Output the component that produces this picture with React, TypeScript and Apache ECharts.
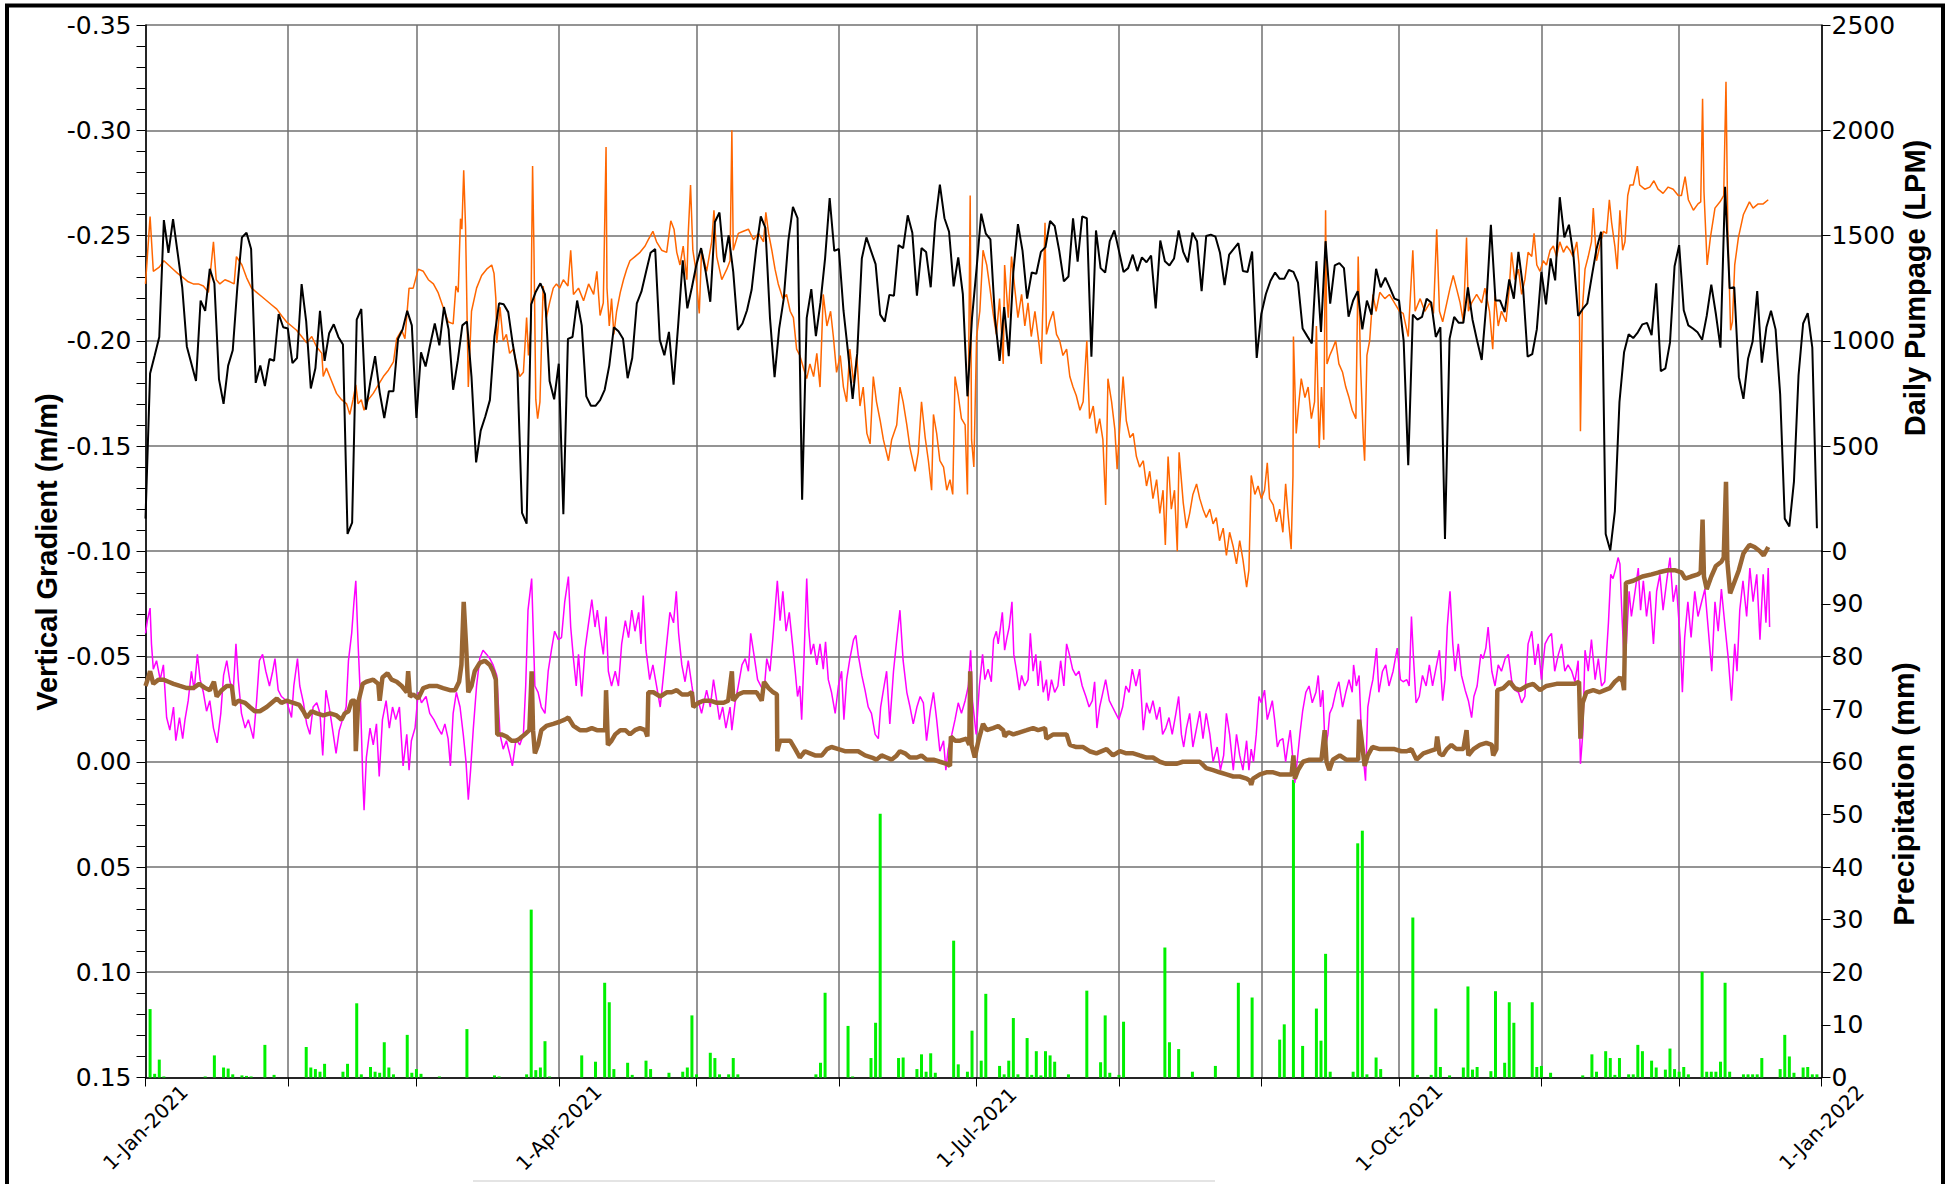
import React, { useEffect, useRef } from "react";
import * as echarts from "echarts";

// ---------- DATA ----------
// day offsets from 1-Jan-2021
const monthStartDays = [0, 31, 59, 90, 120, 151, 181, 212, 243, 273, 304, 334, 365];
const quarterLabelDays = [0, 90, 181, 273, 365];

// Daily pumpage (LPM), one value per day starting 1-Jan-2021
const dailyPumpage = [
  155, 845, 930, 1018, 1573, 1418, 1578, 1418, 1254, 973,
  891, 809, 1191, 1142, 1342, 1273, 818, 700, 882, 955,
  1254, 1491, 1513, 1436, 800, 882, 785, 913, 905, 1127,
  1064, 1058, 894, 918, 1269, 1091, 773, 869, 1142, 904,
  1036, 1078, 1018, 982, 82, 136, 1100, 1151, 673, 809,
  927, 755, 633, 760, 760, 1009, 1054, 1142, 1073, 633,
  945, 878, 982, 1082, 978, 1160, 1054, 767, 904, 1073,
  1091, 827, 422, 573, 640, 718, 1022, 1178, 1173, 1136,
  982, 855, 182, 131, 1173, 1233, 1273, 1222, 809, 722,
  891, 176, 1009, 1018, 1191, 1073, 736, 691, 691, 718,
  767, 882, 1064, 1045, 1009, 822, 918, 1178, 1233, 1327,
  1418, 1436, 1004, 931, 1042, 791, 1073, 1382, 1154, 1254,
  1364, 1440, 1327, 1185, 1564, 1609, 1373, 1500, 1327, 1051,
  1082, 1145, 1242, 1436, 1591, 1536, 1109, 827, 1058, 1200,
  1476, 1636, 1582, 245, 1109, 1245, 1022, 1182, 1391, 1678,
  1427, 1436, 1145, 945, 724, 940, 1391, 1491, 1427, 1364,
  1124, 1091, 1218, 1214, 1454, 1440, 1596, 1513, 1214, 1440,
  1422, 1254, 1564, 1742, 1582, 1518, 1258, 1396, 1222, 736,
  1109, 1345, 1604, 1509, 1482, 1109, 904, 1160, 927, 1327,
  1554, 1427, 1200, 1324, 1318, 1422, 1445, 1569, 1545, 1427,
  1282, 1305, 1582, 1376, 1591, 1582, 924, 1524, 1345, 1324,
  1473, 1524, 1427, 1327, 1345, 1409, 1331, 1396, 1373, 1405,
  1154, 1476, 1378, 1358, 1391, 1524, 1422, 1373, 1513, 1473,
  1236, 1498, 1504, 1495, 1418, 1264, 1409, 1436, 1464, 1331,
  1327, 1424, 918, 1127, 1222, 1285, 1324, 1294, 1294, 1336,
  1327, 1276, 1058, 1022, 987, 1378, 1042, 1473, 1176, 1358,
  1369, 1345, 1114, 1191, 1236, 1054, 1191, 1124, 1342, 1254,
  1300, 1251, 1200, 1191, 1000, 409, 1124, 1100, 1113, 1200,
  1182, 1018, 1064, 58, 1009, 1113, 1085, 1085, 1254, 1100,
  1000, 909, 1173, 1551, 1191, 1191, 1136, 1291, 1200, 1422,
  1254, 924, 936, 1054, 1327, 1173, 1391, 1287, 1682, 1491,
  1551, 1400, 1118, 1151, 1178, 1309, 1436, 1518, 82, 4,
  191, 709, 945, 1031, 1013, 1040, 1078, 1085, 1027, 1273,
  855, 869, 991, 1354, 1454, 1145, 1073, 1058, 1040, 1005,
  1118, 1267, 1127, 967, 1731, 1249, 1254, 827, 724, 914,
  996, 1236, 896, 1064, 1142, 1054, 745, 155, 118, 331,
  836, 1082, 1131, 967, 109,
];

// Orange gradient series [day, m/m]
const orangeGradient = [
  [0, -0.227], [1, -0.259], [1.7, -0.233], [3, -0.235], [4, -0.238], [5, -0.236], [6, -0.234], [7, -0.232],
  [8.2, -0.23], [9.3, -0.228], [10.4, -0.227], [11.5, -0.227], [12.6, -0.226], [13.7, -0.223], [14.8, -0.247],
  [15.4, -0.229], [16.2, -0.227], [17.3, -0.229], [18.4, -0.228], [19.3, -0.227], [19.8, -0.24], [21, -0.236],
  [22, -0.23], [23.1, -0.225], [24.2, -0.223], [25.3, -0.221], [26.4, -0.219], [27.5, -0.217], [28.6, -0.215],
  [29.6, -0.212], [30.7, -0.209], [31.8, -0.207], [32.9, -0.205], [34, -0.202], [35.1, -0.199], [36.2, -0.202],
  [37.3, -0.197], [38.4, -0.194], [38.7, -0.183], [39.4, -0.187], [40.5, -0.181], [41.6, -0.175], [42.7, -0.172],
  [43.8, -0.17], [44.5, -0.165], [45.2, -0.172], [45.8, -0.179], [46.3, -0.17], [47, -0.172], [47.6, -0.167],
  [48.5, -0.172], [49.6, -0.175], [50.7, -0.179], [51.8, -0.183], [52.9, -0.186], [54, -0.19], [54.7, -0.201],
  [55.8, -0.205], [56.5, -0.201], [57.4, -0.225], [58.3, -0.225], [59.4, -0.234], [60.5, -0.233], [61.6, -0.229],
  [62.7, -0.227], [63.7, -0.223], [64.8, -0.216], [65.9, -0.209], [67, -0.208], [67.6, -0.226], [68.1, -0.223],
  [68.6, -0.258], [68.9, -0.253], [69.3, -0.281], [69.7, -0.254], [70.3, -0.178], [71, -0.214], [72.1, -0.225],
  [73.2, -0.231], [74.3, -0.234], [75.4, -0.236], [75.9, -0.232], [76.3, -0.22], [76.5, -0.199], [77.2, -0.216],
  [77.9, -0.2], [78.6, -0.203], [79.3, -0.194], [80.1, -0.196], [80.8, -0.189], [81.5, -0.183], [82.3, -0.185],
  [83, -0.211], [83.4, -0.193], [83.9, -0.205], [84.3, -0.283], [84.6, -0.243], [85, -0.172], [85.4, -0.163],
  [85.9, -0.171], [86.6, -0.226], [87.3, -0.211], [88, -0.218], [88.8, -0.225], [89.5, -0.227], [90.2, -0.225],
  [91, -0.229], [92, -0.226], [92.6, -0.243], [93.2, -0.222], [94.3, -0.225], [95.4, -0.219], [96.5, -0.227],
  [97.6, -0.222], [98.3, -0.233], [99, -0.212], [99.7, -0.218], [100.3, -0.292], [100.5, -0.225], [101, -0.207],
  [101.5, -0.22], [102, -0.203], [102.6, -0.214], [103.4, -0.223], [104.1, -0.229], [104.8, -0.234], [105.5, -0.238],
  [106.6, -0.24], [107.7, -0.242], [108.8, -0.245], [109.5, -0.248], [110.5, -0.252], [111.3, -0.247], [112.4, -0.243],
  [113.5, -0.242], [114.4, -0.257], [115.1, -0.253], [115.7, -0.242], [116.4, -0.236], [117.1, -0.245], [117.9, -0.229],
  [118.2, -0.251], [118.7, -0.274], [119.2, -0.243], [119.7, -0.236], [120.6, -0.213], [121.1, -0.243], [122.2, -0.233],
  [123.3, -0.247], [123.8, -0.262], [124.4, -0.24], [125.5, -0.229], [126.6, -0.234], [127.3, -0.238], [127.7, -0.3],
  [128, -0.243], [129.1, -0.251], [130.2, -0.252], [131.3, -0.253], [132.4, -0.248], [133.5, -0.251], [134.6, -0.247],
  [135.1, -0.261], [135.7, -0.251], [136.4, -0.243], [137.1, -0.234], [137.8, -0.227], [138.8, -0.22], [139.6, -0.222],
  [140.4, -0.214], [141.1, -0.211], [141.8, -0.196], [142.5, -0.193], [143.3, -0.187], [144, -0.182], [144.7, -0.189],
  [145.5, -0.183], [146.2, -0.194], [146.9, -0.178], [147.6, -0.222], [148.4, -0.207], [149.2, -0.214], [149.8, -0.202],
  [150.5, -0.185], [151.3, -0.193], [152, -0.178], [152.7, -0.171], [153.4, -0.196], [154.2, -0.18], [154.9, -0.193],
  [155.6, -0.169], [156.3, -0.178], [157.1, -0.156], [157.8, -0.151], [158.5, -0.183], [159.2, -0.171], [160, -0.162],
  [160.7, -0.153], [161.8, -0.143], [162.5, -0.153], [163.6, -0.16], [164.3, -0.178], [165, -0.171], [165.8, -0.16],
  [166.5, -0.149], [167.6, -0.138], [168.3, -0.147], [169, -0.171], [169.8, -0.154], [170.5, -0.143], [171.2, -0.129],
  [171.6, -0.165], [172.3, -0.156], [173, -0.143], [173.8, -0.14], [174.5, -0.129], [175.2, -0.134], [175.8, -0.127],
  [176.3, -0.183], [177, -0.174], [177.7, -0.163], [178.5, -0.16], [179, -0.127], [179.6, -0.269], [179.9, -0.153],
  [180.4, -0.14], [181, -0.202], [181.7, -0.214], [182.4, -0.243], [183.2, -0.236], [183.9, -0.225], [184.6, -0.213],
  [185.3, -0.203], [186, -0.22], [186.8, -0.189], [187.1, -0.236], [187.9, -0.211], [188.6, -0.24], [189.3, -0.225],
  [190, -0.211], [190.8, -0.222], [191.5, -0.207], [192.2, -0.218], [192.9, -0.202], [193.7, -0.214], [194.4, -0.202],
  [195.1, -0.189], [195.9, -0.256], [196.2, -0.203], [196.9, -0.209], [197.7, -0.214], [198.4, -0.203], [199.1, -0.2],
  [199.8, -0.193], [200.6, -0.196], [201.3, -0.183], [202, -0.178], [202.7, -0.174], [203.5, -0.167], [204.2, -0.171],
  [205, -0.2], [205.6, -0.163], [206.4, -0.169], [207.1, -0.156], [207.8, -0.163], [208.5, -0.153], [209.1, -0.122],
  [209.6, -0.182], [210.4, -0.171], [211.1, -0.158], [211.6, -0.139], [212.2, -0.16], [212.9, -0.183], [213.6, -0.162],
  [214.4, -0.154], [215.1, -0.156], [215.8, -0.145], [216.5, -0.14], [217.3, -0.143], [218, -0.131], [218.7, -0.138],
  [219.4, -0.125], [220.2, -0.134], [220.9, -0.118], [221.6, -0.129], [222.1, -0.103], [222.7, -0.145], [223.4, -0.12],
  [224.1, -0.129], [224.7, -0.1], [225.1, -0.147], [226, -0.123], [226.7, -0.111], [227.4, -0.118], [228.1, -0.127],
  [228.9, -0.132], [229.6, -0.125], [230.3, -0.12], [231, -0.116], [231.8, -0.12], [232.5, -0.113], [233.2, -0.116],
  [233.9, -0.105], [234.7, -0.111], [235.4, -0.098], [236.1, -0.109], [236.9, -0.102], [237.6, -0.094], [238.3, -0.105],
  [239, -0.096], [239.8, -0.083], [240.3, -0.091], [240.8, -0.136], [241.6, -0.127], [242.3, -0.131], [243, -0.125],
  [243.7, -0.129], [244.3, -0.142], [244.8, -0.125], [245.6, -0.122], [246.3, -0.114], [247, -0.12], [247.7, -0.109],
  [248.3, -0.132], [248.8, -0.118], [249.5, -0.101], [249.9, -0.136], [250, -0.202], [250.6, -0.156], [251.2, -0.171],
  [251.7, -0.182], [252.5, -0.173], [253.2, -0.178], [253.9, -0.163], [254.6, -0.171], [255, -0.207], [255.6, -0.149],
  [256.1, -0.178], [256.6, -0.153], [257, -0.262], [257.3, -0.189], [257.9, -0.193], [258.5, -0.196], [259.2, -0.2],
  [259.9, -0.189], [260.7, -0.185], [261.4, -0.178], [262.1, -0.173], [262.8, -0.167], [263.6, -0.163], [264.1, -0.24],
  [264.6, -0.189], [265.2, -0.154], [265.5, -0.143], [266, -0.193], [266.6, -0.2], [267.3, -0.222], [268, -0.214],
  [268.8, -0.223], [269.9, -0.22], [270.9, -0.222], [272, -0.218], [273.1, -0.214], [273.9, -0.213], [275, -0.202],
  [276, -0.243], [276.5, -0.214], [277.6, -0.22], [278.6, -0.214], [279.7, -0.218], [280.5, -0.213], [281.2, -0.253],
  [281.8, -0.214], [282.5, -0.209], [283.4, -0.218], [284.1, -0.225], [284.8, -0.231], [285.5, -0.225], [286.3, -0.218],
  [287, -0.209], [287.7, -0.249], [288.1, -0.214], [288.8, -0.218], [289.9, -0.222], [291, -0.218], [291.7, -0.225],
  [292.7, -0.214], [293.4, -0.196], [293.9, -0.222], [294.6, -0.207], [295.3, -0.214], [296.3, -0.209], [297, -0.225],
  [297.5, -0.242], [298.2, -0.229], [299, -0.234], [299.7, -0.222], [300.4, -0.229], [301.1, -0.242], [301.9, -0.24],
  [302.4, -0.251], [303, -0.236], [303.7, -0.233], [304.4, -0.238], [305.1, -0.236], [305.9, -0.243], [306.6, -0.245],
  [307.3, -0.24], [308, -0.247], [308.8, -0.242], [309.5, -0.245], [310.2, -0.243], [310.9, -0.24], [311.7, -0.247],
  [312.2, -0.236], [312.5, -0.157], [312.9, -0.214], [313.5, -0.234], [314.2, -0.24], [314.9, -0.247], [315.3, -0.263],
  [316, -0.238], [316.7, -0.245], [317.5, -0.252], [318.2, -0.251], [318.8, -0.267], [319.3, -0.256], [320, -0.245],
  [320.5, -0.234], [321.1, -0.262], [321.7, -0.243], [322.2, -0.247], [322.8, -0.269], [323.3, -0.274], [324, -0.274],
  [324.9, -0.283], [325.4, -0.274], [326.5, -0.272], [327.6, -0.273], [328.5, -0.276], [329.4, -0.272], [330.5, -0.27],
  [331.6, -0.273], [332.7, -0.272], [333.8, -0.269], [334.5, -0.269], [335.3, -0.278], [336, -0.267], [337.1, -0.262],
  [338.1, -0.265], [338.7, -0.266], [339.1, -0.315], [339.4, -0.271], [340.1, -0.236], [340.8, -0.249], [341.8, -0.263],
  [342.9, -0.266], [343.7, -0.269], [344.2, -0.323], [344.6, -0.253], [345.2, -0.205], [345.6, -0.209], [346.1, -0.236],
  [346.9, -0.249], [348, -0.26], [349.3, -0.266], [350.1, -0.263], [351.2, -0.265], [352.3, -0.265], [353.4, -0.267],
];

// Magenta gradient series [day, m/m]
const magentaGradient = [
  [0, -0.061], [0.4, -0.067], [1, -0.073], [1.3, -0.056], [1.7, -0.044], [2.4, -0.048], [3.2, -0.039], [3.9, -0.046],
  [4.6, -0.021], [5.3, -0.015], [6.1, -0.026], [6.6, -0.01], [7.4, -0.021], [8.1, -0.011], [8.6, -0.02], [9.3, -0.029],
  [10, -0.043], [10.6, -0.034], [11.3, -0.051], [11.9, -0.039], [12.6, -0.033], [13.3, -0.024], [14, -0.029],
  [14.8, -0.016], [15.6, -0.009], [16.4, -0.023], [17, -0.041], [17.7, -0.048], [18.4, -0.038], [19.1, -0.033],
  [19.7, -0.056], [20.2, -0.039], [20.9, -0.023], [21.7, -0.016], [22.4, -0.02], [23.5, -0.011], [24.2, -0.029],
  [24.8, -0.048], [25.5, -0.051], [26.2, -0.043], [27, -0.036], [27.7, -0.043], [28.2, -0.049], [28.9, -0.034],
  [29.6, -0.031], [30.7, -0.029], [31.8, -0.021], [32.3, -0.036], [33.1, -0.049], [33.6, -0.036], [34.4, -0.028],
  [35.1, -0.018], [35.8, -0.013], [36.5, -0.026], [37.3, -0.028], [38, -0.023], [38.6, -0.003], [39.3, -0.034],
  [40, -0.026], [40.7, -0.016], [41.5, -0.004], [42.2, -0.015], [42.9, -0.02], [43.7, -0.026], [44.2, -0.048],
  [44.9, -0.061], [45.4, -0.076], [45.8, -0.086], [46.3, -0.056], [46.8, -0.031], [47.3, 0.007], [47.6, 0.023],
  [48.1, -0.002], [48.9, -0.016], [49.6, -0.008], [50.3, -0.018], [50.9, 0.007], [51.6, -0.02], [52.4, -0.029],
  [53.1, -0.016], [53.8, -0.026], [54.5, -0.02], [55.3, -0.026], [56.1, 0.002], [56.9, -0.013], [57.4, 0.004],
  [57.9, -0.01], [58.7, -0.016], [59.4, -0.033], [60.1, -0.028], [61.1, -0.031], [61.9, -0.023], [62.8, -0.02],
  [63.7, -0.016], [64.5, -0.013], [65.2, -0.018], [65.9, -0.011], [66.4, 0.002], [67, -0.023], [67.7, -0.033],
  [68.5, -0.026], [69.2, -0.013], [69.8, 0], [70.3, 0.018], [70.8, 0.004], [71.4, -0.016], [72.1, -0.036],
  [72.8, -0.049], [73.5, -0.053], [74.3, -0.051], [75, -0.049], [75.7, -0.046], [76.5, -0.041], [77.2, -0.013],
  [77.9, -0.006], [78.6, -0.01], [79.4, -0.003], [79.9, 0.002], [80.7, -0.011], [81.5, -0.008], [82.3, -0.013],
  [82.8, -0.036], [83.3, -0.072], [84.1, -0.087], [84.8, -0.036], [85.5, -0.033], [86.2, -0.026], [87, -0.023],
  [87.7, -0.043], [88.4, -0.053], [89.1, -0.062], [89.9, -0.058], [90.6, -0.059], [91.3, -0.076], [92.1, -0.088],
  [92.6, -0.064], [93.2, -0.049], [93.8, -0.036], [94.3, -0.051], [95, -0.031], [95.7, -0.053], [96.5, -0.066],
  [97.2, -0.077], [97.9, -0.064], [98.4, -0.072], [99, -0.061], [99.7, -0.051], [100.3, -0.069], [100.8, -0.043],
  [101.5, -0.036], [102.3, -0.043], [103, -0.036], [103.7, -0.056], [104.5, -0.067], [105.2, -0.059], [105.9, -0.072],
  [106.6, -0.062], [107.4, -0.071], [107.9, -0.056], [108.4, -0.079], [109, -0.053], [109.8, -0.039], [110.5, -0.046],
  [111.3, -0.036], [112.1, -0.026], [112.8, -0.041], [113.5, -0.056], [114.2, -0.071], [115, -0.066], [115.6, -0.081],
  [116.1, -0.061], [116.8, -0.046], [117.5, -0.038], [118.2, -0.048], [119, -0.036], [119.7, -0.026], [120.4, -0.029],
  [121.1, -0.023], [122.2, -0.034], [123, -0.026], [123.7, -0.039], [124.4, -0.029], [125, -0.02], [125.7, -0.026],
  [126.4, -0.016], [127.3, -0.026], [127.7, -0.015], [128.4, -0.028], [129.1, -0.036], [129.9, -0.046], [130.6, -0.049],
  [131.3, -0.043], [131.8, -0.061], [132.5, -0.051], [133.3, -0.039], [134, -0.036], [134.7, -0.033], [135.3, -0.049],
  [136, -0.043], [136.6, -0.058], [137.1, -0.072], [137.6, -0.086], [138.2, -0.067], [138.8, -0.081], [139.5, -0.062],
  [140.2, -0.071], [140.9, -0.056], [141.5, -0.043], [142, -0.031], [142.5, -0.036], [142.9, -0.02], [143.4, -0.049],
  [144, -0.087], [144.4, -0.064], [144.9, -0.051], [145.5, -0.056], [146.2, -0.046], [146.9, -0.056], [147.6, -0.044],
  [148.1, -0.057], [148.7, -0.039], [149.4, -0.033], [150.2, -0.023], [150.9, -0.036], [151.6, -0.043], [152.1, -0.02],
  [152.7, -0.039], [153.4, -0.049], [154.2, -0.058], [154.7, -0.06], [155.2, -0.051], [156, -0.041], [156.7, -0.034],
  [157.4, -0.026], [158.1, -0.023], [158.9, -0.013], [159.6, -0.011], [160.1, -0.026], [160.7, -0.034], [161.4, -0.043],
  [162.1, -0.018], [162.9, -0.043], [163.6, -0.058], [164.3, -0.072], [165, -0.048], [165.8, -0.033], [166.5, -0.026],
  [167.2, -0.018], [168, -0.026], [168.7, -0.031], [169.4, -0.028], [170.1, -0.01], [170.9, -0.024], [171.6, -0.033],
  [172.3, -0.02], [173, -0.005], [173.8, -0.01], [174.3, 0.004], [174.8, -0.006], [175.6, -0.013], [176.3, -0.02],
  [177, -0.028], [177.7, -0.023], [178.5, -0.029], [179.2, -0.036], [179.7, -0.053], [180.1, -0.029], [180.9, -0.013],
  [181.6, -0.036], [182.3, -0.051], [182.8, -0.039], [183.5, -0.044], [184.2, -0.038], [184.7, -0.058], [185.3, -0.062],
  [185.7, -0.056], [186.2, -0.064], [186.6, -0.071], [187.1, -0.053], [187.6, -0.059], [188.1, -0.064], [188.7, -0.076],
  [189.1, -0.051], [189.7, -0.043], [190.3, -0.034], [190.8, -0.041], [191.5, -0.036], [192.2, -0.039], [192.7, -0.061],
  [193.3, -0.043], [193.9, -0.051], [194.4, -0.036], [194.9, -0.048], [195.5, -0.033], [196.2, -0.039], [196.6, -0.029],
  [197.3, -0.039], [198, -0.033], [198.7, -0.036], [199.3, -0.048], [200, -0.036], [200.6, -0.056], [201.2, -0.051],
  [201.9, -0.044], [202.6, -0.041], [203.3, -0.043], [204, -0.036], [204.8, -0.031], [205.5, -0.026], [206.2, -0.029],
  [206.7, -0.038], [207.2, -0.016], [207.8, -0.026], [208.5, -0.033], [209.1, -0.039], [209.9, -0.029], [210.6, -0.026],
  [211.3, -0.023], [212, -0.02], [212.8, -0.026], [213.5, -0.036], [214.2, -0.033], [214.9, -0.044], [215.7, -0.036],
  [216.5, -0.044], [217.3, -0.015], [218, -0.028], [218.7, -0.023], [219.4, -0.029], [220.2, -0.02], [220.9, -0.026],
  [221.5, -0.013], [222.2, -0.016], [222.9, -0.021], [223.6, -0.013], [224.4, -0.023], [225, -0.031], [225.6, -0.013],
  [226.1, -0.007], [226.7, -0.016], [227.4, -0.023], [228.1, -0.007], [228.9, -0.016], [229.6, -0.024], [230.3, -0.011],
  [231, -0.023], [231.8, -0.013], [232.5, 0], [233.4, -0.007], [234.1, 0.004], [234.8, -0.003], [235.4, -0.023],
  [236.1, -0.013], [236.9, 0.004], [237.6, -0.013], [238.3, -0.003], [239, 0.004], [239.8, -0.01], [240.3, 0.004],
  [240.8, -0.006], [241.3, 0], [241.9, -0.013], [242.5, -0.031], [243, -0.028], [243.7, -0.034], [244.3, -0.02],
  [244.8, -0.024], [245.4, -0.029], [245.9, -0.02], [246.5, -0.007], [247, -0.01], [247.7, -0.011], [248.3, 0],
  [248.8, -0.008], [249.3, -0.015], [249.8, -0.003], [250.3, 0.01], [250.8, 0], [251.4, -0.013], [252, -0.024],
  [252.7, -0.033], [253.4, -0.036], [254.1, -0.028], [254.9, -0.033], [255.4, -0.041], [255.9, -0.026], [256.4, -0.034],
  [256.9, -0.006], [257.5, -0.013], [257.9, -0.023], [258.5, -0.026], [259.2, -0.033], [259.9, -0.038], [260.7, -0.026],
  [261.4, -0.033], [262.1, -0.039], [262.8, -0.033], [263.1, -0.046], [263.7, -0.036], [264.3, -0.041], [264.8, -0.013],
  [265.3, 0], [265.7, 0.009], [266.2, -0.026], [266.8, -0.034], [267.3, -0.039], [268.1, -0.054], [268.6, -0.033],
  [269.4, -0.043], [270.1, -0.046], [270.8, -0.036], [271.7, -0.043], [272.6, -0.054], [273.3, -0.039], [273.9, -0.038],
  [274.7, -0.039], [275.2, -0.036], [275.7, -0.069], [276.1, -0.051], [276.7, -0.028], [277.4, -0.031], [278.1, -0.041],
  [278.9, -0.036], [279.6, -0.046], [280.3, -0.036], [281, -0.044], [281.8, -0.053], [282.5, -0.029], [283, -0.039],
  [283.5, -0.064], [284.1, -0.081], [284.7, -0.056], [285.2, -0.043], [285.9, -0.056], [286.6, -0.041], [287.4, -0.034],
  [288.1, -0.029], [288.8, -0.021], [289.3, -0.031], [290, -0.036], [290.8, -0.051], [291.3, -0.049], [291.9, -0.054],
  [292.4, -0.064], [293.2, -0.043], [293.9, -0.036], [294.6, -0.046], [295.3, -0.043], [296.1, -0.049], [296.8, -0.051],
  [297.5, -0.039], [298.2, -0.034], [299, -0.033], [299.7, -0.028], [300.4, -0.031], [301.1, -0.056], [301.9, -0.062],
  [302.6, -0.046], [303.3, -0.056], [304, -0.039], [304.8, -0.056], [305.5, -0.059], [306.2, -0.061], [306.9, -0.043],
  [307.7, -0.051], [308.4, -0.056], [309.1, -0.043], [309.8, -0.046], [310.6, -0.043], [311.3, -0.038], [312, -0.048],
  [312.5, 0.001], [313, -0.013], [313.5, -0.053], [314.2, -0.043], [314.9, -0.058], [315.7, -0.039], [316.4, -0.049],
  [317.1, -0.036], [317.8, -0.038], [318.6, -0.066], [319.1, -0.089], [319.6, -0.087], [320.2, -0.092], [320.7, -0.097],
  [321.1, -0.094], [321.5, -0.072], [322, -0.048], [322.5, -0.056], [323.1, -0.081], [323.6, -0.069], [324.4, -0.081],
  [325.1, -0.092], [325.6, -0.072], [326.2, -0.086], [326.9, -0.069], [327.6, -0.081], [328.4, -0.056], [329.1, -0.081],
  [329.8, -0.089], [330.5, -0.072], [331.3, -0.086], [332, -0.097], [332.7, -0.076], [333.4, -0.084], [334.2, -0.059],
  [334.7, -0.033], [335.2, -0.059], [335.9, -0.076], [336.6, -0.059], [337.4, -0.081], [338.1, -0.069], [338.9, -0.076],
  [339.6, -0.082], [340.3, -0.064], [341.1, -0.043], [341.8, -0.076], [342.5, -0.062], [343.2, -0.082], [344, -0.064],
  [344.7, -0.049], [345.4, -0.029], [346.1, -0.056], [346.6, -0.043], [347.2, -0.072], [347.9, -0.086], [348.7, -0.069],
  [349.4, -0.092], [350.1, -0.076], [350.9, -0.089], [351.6, -0.058], [352.3, -0.089], [352.9, -0.066], [353.4, -0.092],
  [353.7, -0.064],
];

// Brown gradient series [day, m/m]
const brownGradient = [
  [0, -0.036], [0.6, -0.04], [1, -0.043], [1.7, -0.037], [2.8, -0.039], [3.9, -0.039], [5, -0.038], [6.1, -0.037],
  [7.5, -0.036], [9, -0.035], [10.4, -0.035], [11.7, -0.037], [13, -0.035], [14, -0.034], [14.9, -0.038], [15.5, -0.031],
  [16.6, -0.034], [17.7, -0.036], [18.8, -0.036], [19.3, -0.027], [20.2, -0.029], [21.7, -0.028], [22.7, -0.026],
  [23.8, -0.024], [24.9, -0.024], [26.4, -0.026], [27.5, -0.028], [28.6, -0.03], [29.6, -0.028], [30.7, -0.029],
  [32.2, -0.028], [33.5, -0.027], [34.4, -0.024], [35.1, -0.021], [36.2, -0.024], [37.3, -0.023], [38.7, -0.022],
  [40.2, -0.023], [41.6, -0.022], [42.7, -0.02], [43.4, -0.023], [44.2, -0.024], [44.9, -0.029], [45.6, -0.029],
  [45.8, -0.005], [46.3, -0.028], [47.3, -0.037], [48.1, -0.038], [49.6, -0.039], [50.7, -0.037], [51, -0.029],
  [51.6, -0.04], [52.7, -0.042], [53.6, -0.039], [54.7, -0.038], [55.8, -0.036], [56.9, -0.033], [57.2, -0.043],
  [57.6, -0.031], [58.3, -0.032], [59.4, -0.03], [60.5, -0.035], [61.9, -0.036], [63.4, -0.036], [64.8, -0.035],
  [66.3, -0.034], [67.4, -0.034], [68.3, -0.038], [68.8, -0.046], [69.3, -0.076], [69.8, -0.056], [70.3, -0.033],
  [71, -0.036], [71.7, -0.043], [72.8, -0.047], [73.9, -0.048], [75, -0.046], [75.7, -0.043], [76.3, -0.039],
  [76.6, -0.013], [77.5, -0.013], [78.6, -0.012], [79.7, -0.01], [80.7, -0.01], [81.5, -0.011], [82.6, -0.013],
  [83.6, -0.015], [84.1, -0.043], [84.4, -0.015], [84.8, -0.004], [85.5, -0.008], [86.2, -0.015], [87.3, -0.017],
  [88.8, -0.018], [90.2, -0.019], [91.3, -0.02], [92.1, -0.021], [93.2, -0.017], [94.6, -0.015], [96.1, -0.015],
  [97.2, -0.016], [98.3, -0.015], [99.4, -0.015], [100.1, -0.015], [100.3, -0.034], [100.7, -0.008], [101.5, -0.01],
  [102.3, -0.013], [103.4, -0.015], [104.5, -0.015], [105.5, -0.013], [106.6, -0.015], [107.7, -0.016], [108.8, -0.015],
  [109.3, -0.012], [109.5, -0.033], [110.6, -0.033], [112.1, -0.031], [113.5, -0.033], [114.6, -0.033], [115.7, -0.034],
  [116.8, -0.032], [118.2, -0.032], [119, -0.033], [119.3, -0.026], [120.4, -0.028], [121.5, -0.029], [123, -0.029],
  [124.4, -0.028], [125.9, -0.028], [126.9, -0.029], [127.7, -0.043], [128, -0.029], [129.1, -0.032], [130.2, -0.033],
  [131.7, -0.033], [133.1, -0.033], [134.2, -0.029], [134.7, -0.038], [135.7, -0.035], [136.7, -0.033], [137.5, -0.032],
  [137.6, -0.005], [138.2, -0.01], [139.3, -0.01], [140.4, -0.01], [141.5, -0.006], [142.5, -0.002], [143.6, -0.005],
  [144.7, -0.004], [145.8, -0.003], [147.3, -0.003], [148.4, -0.006], [149.4, -0.007], [150.9, -0.006], [152.3, -0.005],
  [153.8, -0.005], [155.2, -0.005], [156.7, -0.003], [158.2, -0.002], [159.2, -0.001], [160.3, -0.003], [161.4, -0.002],
  [162.5, -0.001], [163.6, -0.003], [164.3, -0.005], [165.4, -0.004], [166.5, -0.002], [168, -0.002], [169, -0.003],
  [170.1, -0.001], [171.6, -0.001], [173, 0], [174.5, 0.001], [175.2, 0.002], [175.4, -0.012], [176.3, -0.01],
  [177.4, -0.01], [178.8, -0.011], [179.4, -0.008], [179.6, -0.043], [179.9, -0.008], [180.6, -0.002], [181.4, -0.01],
  [182.4, -0.018], [183.2, -0.015], [184.6, -0.016], [185.7, -0.017], [186.8, -0.015], [187.1, -0.012], [187.9, -0.014],
  [189, -0.013], [190.4, -0.014], [191.9, -0.015], [193.3, -0.016], [194.4, -0.015], [195.9, -0.016], [196.2, -0.011],
  [197.7, -0.013], [199.1, -0.013], [200.6, -0.013], [201.3, -0.008], [202.7, -0.007], [204.2, -0.007], [205.6, -0.005],
  [207.1, -0.004], [209.3, -0.006], [210.7, -0.003], [212.2, -0.005], [213.6, -0.004], [215.1, -0.004], [216.5, -0.003],
  [218, -0.002], [219.4, -0.002], [220.9, 0], [222.3, 0.001], [224.5, 0.001], [225.9, 0], [228.1, 0], [229.6, 0],
  [231, 0.003], [232.5, 0.004], [233.9, 0.005], [235.4, 0.006], [236.9, 0.007], [238.3, 0.007], [239.8, 0.008],
  [240.5, 0.009], [240.8, 0.011], [241.2, 0.008], [242.7, 0.006], [244.1, 0.005], [245.6, 0.005], [247, 0.006],
  [248.5, 0.006], [249.6, 0.006], [250, -0.003], [250.3, 0.008], [251, 0.004], [252.1, 0], [253.5, -0.001],
  [255, -0.001], [256.1, -0.001], [256.8, -0.015], [257.2, 0], [257.8, 0.004], [258.6, -0.001], [260.1, -0.003],
  [261.5, -0.001], [263, -0.001], [264.1, -0.001], [264.3, -0.02], [264.8, -0.011], [265.5, 0.002], [266.2, -0.003],
  [267.2, -0.007], [268.8, -0.006], [270.2, -0.006], [272, -0.006], [273.5, -0.005], [274.7, -0.005], [275.7, -0.006],
  [276.8, -0.001], [278.3, -0.004], [279.7, -0.005], [281, -0.006], [281.3, -0.012], [281.8, -0.004], [282.5, -0.003],
  [283.4, -0.006], [284.4, -0.008], [285.5, -0.006], [287, -0.006], [287.7, -0.015], [288.1, -0.003], [289.2, -0.006],
  [290.6, -0.008], [292, -0.009], [293.2, -0.008], [293.5, -0.003], [294.2, -0.006], [294.4, -0.034], [295.7, -0.035],
  [297.1, -0.038], [298.2, -0.035], [299.3, -0.034], [300.8, -0.036], [302.2, -0.037], [303.7, -0.034], [305.1, -0.036],
  [307.3, -0.037], [309.5, -0.037], [311.3, -0.037], [312.2, -0.038], [312.5, -0.011], [313, -0.028], [313.8, -0.033],
  [315.3, -0.034], [316.7, -0.033], [317.8, -0.034], [318.9, -0.035], [320, -0.038], [321.1, -0.04], [321.7, -0.038],
  [322, -0.034], [322.4, -0.085], [324, -0.086], [326, -0.088], [328, -0.089], [329.6, -0.09], [331.5, -0.091],
  [333, -0.091], [334.5, -0.09], [335.3, -0.087], [336.6, -0.088], [338.1, -0.089], [338.7, -0.09], [339.1, -0.115],
  [339.4, -0.088], [340, -0.082], [341, -0.088], [342, -0.093], [343.2, -0.095], [343.7, -0.097], [344.2, -0.133],
  [344.5, -0.095], [345.1, -0.08], [345.8, -0.084], [347, -0.091], [348, -0.099], [349.3, -0.103], [350.4, -0.102],
  [351.6, -0.1], [352.4, -0.098], [353.4, -0.102],
];

// Daily precipitation (mm) [day, mm]
const precipitation = [
  [1, 13], [2, 0.7], [3, 3.4], [4, 0.2], [13, 0.2], [15, 4.2], [17, 1.9], [18, 1.7], [19, 0.6], [21, 0.4], [22, 0.3],
  [23, 0.2], [26, 6.2], [28, 0.5], [35, 5.8], [36, 1.9], [37, 1.6], [38, 1.1], [39, 2.6], [43, 1.1], [44, 2.6],
  [46, 14.1], [47, 0.6], [49, 2], [50, 1.1], [51, 0.9], [52, 6.7], [53, 1.9], [54, 0.6], [57, 8.1], [58, 0.9],
  [59, 1.6], [60, 0.7], [64, 0.2], [70, 9.2], [76, 0.4], [77, 0.2], [83, 0.6], [84, 31.9], [85, 1.4], [86, 1.9],
  [87, 6.9], [88, 0.2], [95, 4.2], [98, 3], [100, 18], [101, 14.3], [102, 1.6], [105, 2.8], [106, 0.5], [109, 3.2],
  [110, 1.6], [114, 0.9], [117, 1.1], [118, 1.9], [119, 11.8], [120, 0.6], [123, 4.7], [124, 3.7], [125, 0.6],
  [127, 0.6], [128, 3.7], [129, 0.6], [146, 0.6], [147, 2.8], [148, 16.1], [153, 9.8], [154, 0.2], [158, 3.7],
  [159, 10.4], [160, 50.1], [164, 3.7], [165, 3.8], [168, 1.6], [169, 4.4], [170, 1.1], [171, 4.6], [172, 0.9],
  [176, 26], [177, 2.5], [179, 1.1], [180, 8.9], [182, 3.2], [183, 15.9], [186, 2.2], [187, 0.6], [188, 3.2],
  [189, 11.3], [190, 0.6], [192, 7.5], [193, 0.5], [194, 5], [195, 0.4], [196, 5], [197, 4.2], [198, 3],
  [201, 0.6], [205, 16.5], [208, 2.9], [209, 11.8], [210, 0.9], [212, 0.5], [213, 10.6], [222, 24.7], [223, 6.7],
  [225, 5.4], [228, 1.1], [233, 2.2], [238, 18], [241, 15.2], [247, 7.2], [248, 10.1], [250, 56.6], [252, 6],
  [255, 13.1], [256, 7], [257, 23.5], [258, 1.1], [263, 1.1], [264, 44.5], [265, 46.9], [266, 0.6], [268, 3.8],
  [269, 1.6], [276, 30.4], [277, 0.5], [280, 0.5], [281, 13.1], [282, 2], [284, 0.4], [287, 1.9], [288, 17.3],
  [289, 1.5], [290, 2], [293, 1.2], [294, 16.4], [296, 2.8], [297, 14.3], [298, 10.4], [302, 14.3], [303, 2],
  [304, 2.2], [306, 0.9], [313, 0.4], [315, 4.4], [316, 1.1], [318, 5], [319, 3.7], [320, 0.5], [321, 3.7],
  [323, 0.6], [324, 0.6], [325, 6.2], [326, 5], [328, 3.2], [329, 1.9], [331, 1.5], [332, 5.5], [333, 1.6],
  [334, 1.1], [335, 2], [336, 0.6], [339, 20.1], [340, 1.1], [341, 1.1], [342, 1.1], [343, 3], [344, 18],
  [345, 1.1], [348, 0.6], [349, 0.6], [350, 0.6], [351, 0.6], [352, 3.7], [356, 1.6], [357, 8.1], [358, 4],
  [359, 0.9], [361, 1.9], [362, 2], [363, 0.6], [364, 0.6],
];

const MONTHS = ["Jan", "Feb", "Mar", "Apr", "May", "Jun", "Jul", "Aug", "Sep", "Oct", "Nov", "Dec"];
const BASE = Date.UTC(2021, 0, 1);

function dayLabel(v: number): string {
  const d = new Date(BASE + Math.round(v) * 86400000);
  return `${d.getUTCDate()}-${MONTHS[d.getUTCMonth()]}-${d.getUTCFullYear()}`;
}

const FONT = "'DejaVu Sans', Verdana, sans-serif";
const TITLE_FONT = "'Liberation Sans', Arial, sans-serif";

export default function App() {
  const ref = useRef<HTMLDivElement>(null);

  useEffect(() => {
    if (!ref.current) return;
    const chart = echarts.init(ref.current, undefined, { renderer: "svg" });

    const plotLeft = 145.5;
    const plotWidth = 1676;
    const plotTop = 25;
    const plotHeight = 1052.5;
    const half = plotHeight / 2;

    const gridColor = "#707070";

    const titleStyle = (text: string, size: number) => ({
      text,
      fontFamily: TITLE_FONT,
      fontWeight: "bold",
      fontSize: size,
      fill: "#000",
      align: "center",
      verticalAlign: "middle",
    });

    const option: any = {
      animation: false,
      backgroundColor: "#ffffff",
      grid: [
        { left: plotLeft, top: plotTop, width: plotWidth, height: plotHeight },
        { left: plotLeft, top: plotTop, width: plotWidth, height: half },
        { left: plotLeft, top: plotTop + half, width: plotWidth, height: half },
      ],
      xAxis: [
        {
          type: "value",
          gridIndex: 0,
          min: 0,
          max: 365,
          axisLine: { show: true, onZero: false, lineStyle: { color: "#000", width: 1.5 } },
          axisTick: { show: true, customValues: monthStartDays, length: 9, lineStyle: { color: "#000", width: 1 } },
          axisLabel: {
            customValues: quarterLabelDays,
            rotate: 45,
            margin: 50,
            align: "center",
            verticalAlign: "middle",
            formatter: (v: number) => dayLabel(v),
            fontFamily: FONT,
            fontSize: 20,
            color: "#000",
          },
          splitLine: { show: true, lineStyle: { color: gridColor, width: 1.5 } },
        },
        { type: "value", gridIndex: 1, min: 0, max: 365, show: false },
        { type: "value", gridIndex: 2, min: 0, max: 365, show: false },
      ],
      yAxis: [
        {
          type: "value",
          gridIndex: 0,
          position: "left",
          inverse: true,
          min: -0.35,
          max: 0.15,
          interval: 0.05,
          axisLine: { show: true, onZero: false, lineStyle: { color: "#000", width: 1.5 } },
          axisTick: { show: true, length: 9, lineStyle: { color: "#000", width: 1 } },
          minorTick: { show: true, splitNumber: 5, length: 9, lineStyle: { color: "#000", width: 1 } },
          axisLabel: {
            margin: 14,
            fontFamily: FONT,
            fontSize: 25,
            color: "#000",
            formatter: (v: number) => (Math.abs(v) < 1e-9 ? "0.00" : v.toFixed(2)),
          },
          splitLine: { show: true, lineStyle: { color: gridColor, width: 1.5 } },
        },
        {
          type: "value",
          gridIndex: 1,
          position: "right",
          min: 0,
          max: 2500,
          interval: 500,
          axisLine: { show: true, onZero: false, lineStyle: { color: "#000", width: 1.5 } },
          axisTick: { show: true, length: 9, lineStyle: { color: "#000", width: 1 } },
          axisLabel: {
            margin: 10,
            fontFamily: FONT,
            fontSize: 25,
            color: "#000",
            formatter: (v: number) => String(v),
          },
          splitLine: { show: false },
        },
        {
          type: "value",
          gridIndex: 2,
          position: "right",
          min: 0,
          max: 100,
          interval: 10,
          axisLine: { show: true, onZero: false, lineStyle: { color: "#000", width: 1.5 } },
          axisTick: { show: true, length: 9, lineStyle: { color: "#000", width: 1 } },
          axisLabel: {
            margin: 10,
            fontFamily: FONT,
            fontSize: 25,
            color: "#000",
            formatter: (v: number) => (v >= 100 ? "" : String(v)),
          },
          splitLine: { show: false },
        },
      ],
      series: [
        {
          name: "Precipitation",
          type: "bar",
          xAxisIndex: 2,
          yAxisIndex: 2,
          barWidth: 3,
          itemStyle: { color: "#00F000" },
          data: precipitation,
        },
        {
          name: "Gradient A",
          type: "line",
          xAxisIndex: 0,
          yAxisIndex: 0,
          symbol: "none",
          lineStyle: { color: "#FF6600", width: 1.5 },
          data: orangeGradient,
        },
        {
          name: "Gradient B",
          type: "line",
          xAxisIndex: 0,
          yAxisIndex: 0,
          symbol: "none",
          lineStyle: { color: "#FF00FF", width: 1.5 },
          data: magentaGradient,
        },
        {
          name: "Gradient C",
          type: "line",
          xAxisIndex: 0,
          yAxisIndex: 0,
          symbol: "none",
          lineStyle: { color: "#996633", width: 4.5 },
          data: brownGradient,
        },
        {
          name: "Daily Pumpage",
          type: "line",
          xAxisIndex: 1,
          yAxisIndex: 1,
          symbol: "none",
          lineStyle: { color: "#000000", width: 2 },
          data: dailyPumpage.map((v, i) => [i, v]),
        },
      ],
      graphic: [
        {
          type: "rect",
          shape: { x: 7, y: 5.5, width: 1936, height: 1200 },
          style: { fill: "none", stroke: "#000", lineWidth: 4 },
          silent: true,
        },
        {
          type: "line",
          shape: { x1: 473, y1: 1181, x2: 1215, y2: 1181 },
          style: { stroke: "#e4e4e4", lineWidth: 2 },
          silent: true,
        },
        { type: "text", x: 47, y: 552, rotation: Math.PI / 2, style: titleStyle("Vertical Gradient (m/m)", 29) },
        { type: "text", x: 1915, y: 288, rotation: Math.PI / 2, style: titleStyle("Daily Pumpage (LPM)", 29) },
        { type: "text", x: 1903, y: 794, rotation: Math.PI / 2, style: titleStyle("Precipitation (mm)", 30) },
      ],
    };

    chart.setOption(option);
    return () => chart.dispose();
  }, []);

  return (
    <div
      ref={ref}
      style={{ position: "fixed", left: 0, top: 0, width: 1954, height: 1184, background: "#fff" }}
    />
  );
}
